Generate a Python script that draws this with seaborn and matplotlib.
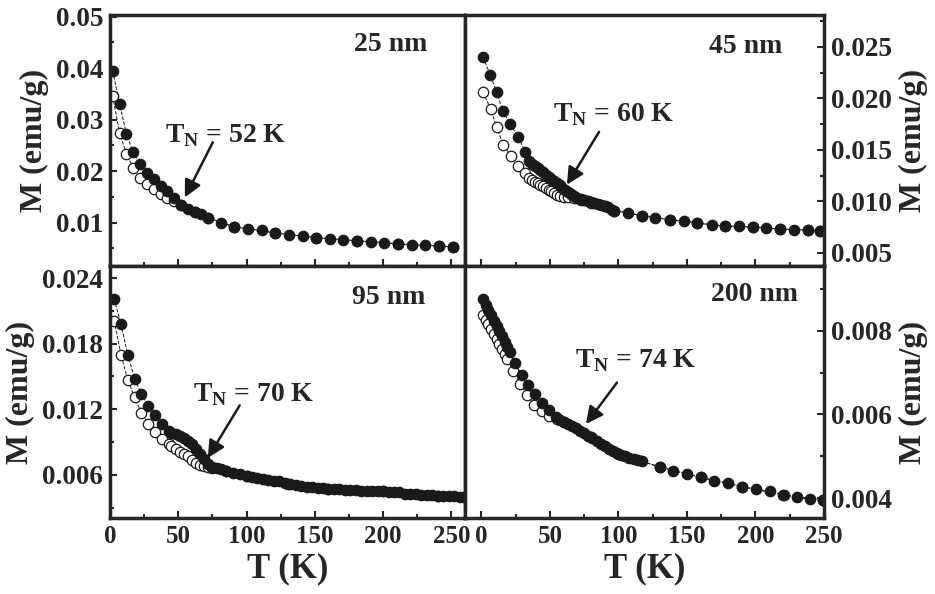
import numpy as np
import pandas as pd
import matplotlib
matplotlib.use("Agg")
import matplotlib.pyplot as plt
from matplotlib.ticker import MultipleLocator, FormatStrFormatter
import seaborn as sns

# ---- 25 nm ----
t25_fc = [2, 7, 12, 17, 22, 27, 32, 37, 42, 47, 52, 57, 62, 67, 72, 81, 91, 101, 111, 121,
          131, 141, 151, 161, 171, 181, 191, 201, 211, 221, 231, 241, 251]
m25_fc = [0.0394, 0.0331, 0.0272, 0.0237, 0.0214, 0.0197, 0.0184, 0.0172, 0.0161, 0.0147,
          0.0135, 0.0127, 0.0121, 0.0116, 0.0110, 0.0100, 0.0092, 0.0088, 0.0085, 0.0080,
          0.0077, 0.0074, 0.0071, 0.0069, 0.0067, 0.0065, 0.0063, 0.0061, 0.0059, 0.0057,
          0.0056, 0.0055, 0.0053]
t25_zfc = [2, 7, 12, 17, 22, 27, 32, 37, 42, 47, 52, 62, 72, 91, 121, 151, 181, 211, 241, 251]
m25_zfc = [0.0346, 0.0274, 0.0234, 0.0206, 0.0187, 0.0175, 0.0165, 0.0156, 0.0148, 0.0142,
           0.0134, 0.0121, 0.0110, 0.0092, 0.0080, 0.0071, 0.0065, 0.0059, 0.0055, 0.0053]

# ---- 45 nm ----
t45_fc = [1, 6.5, 11, 15.5, 21, 27, 32, 35, 37, 39, 41, 43, 45, 47, 49, 51, 53, 55, 57, 59,
          61, 63, 65, 67.5, 70, 72.5, 75, 77.5, 80, 82.5, 85, 87.5, 90, 92.5, 95, 97, 107,
          117, 127, 137.5, 148, 157.5, 168, 178, 188, 198, 208, 218, 228, 238.5, 247]
m45_fc = [0.0240, 0.0223, 0.0206, 0.0188, 0.0175, 0.0162, 0.0148, 0.0139, 0.0136, 0.0134,
          0.0132, 0.0130, 0.0128, 0.0126, 0.0124, 0.0122, 0.0120, 0.0118, 0.0116, 0.0113,
          0.0111, 0.0109, 0.0107, 0.0105, 0.0103, 0.0102, 0.0101, 0.0100, 0.0099, 0.0098,
          0.0097, 0.0096, 0.0095, 0.0094, 0.0092, 0.0091, 0.00887, 0.0086, 0.0084, 0.0082,
          0.0081, 0.0079, 0.0077, 0.0076, 0.00755, 0.0075, 0.0074, 0.0073, 0.00725, 0.0072,
          0.0071]
t45_zfc = [1, 6.7, 11, 16, 21.5, 26.5, 31.5, 35, 37, 39, 41, 43, 45, 47, 49, 51, 53, 55, 57,
           60, 63, 67.5, 72.5, 80, 90, 97, 117, 137.5, 157.5, 178, 198, 218, 238.5, 247]
m45_zfc = [0.0206, 0.0190, 0.0172, 0.0155, 0.0144, 0.0134, 0.0127, 0.0123, 0.0121, 0.0119,
           0.0118, 0.0116, 0.01145, 0.0113, 0.0111, 0.0110, 0.0108, 0.0106, 0.0105, 0.0104,
           0.0104, 0.0103, 0.0101, 0.0098, 0.0095, 0.0091, 0.0086, 0.0082, 0.0079, 0.0076,
           0.0075, 0.0073, 0.0072, 0.0071]

# ---- 95 nm ----
t95_fc = [3, 8, 13, 18, 23, 28, 33, 38, 43, 45, 48, 51, 54, 57, 60, 63, 66, 69, 72, 75, 78,
          81, 85, 90, 95, 100, 104, 108, 112, 116, 120, 124, 128, 132, 136, 140, 144, 148,
          152, 156, 160, 164, 168, 172, 176, 180, 184, 188, 192, 196, 200, 204, 208, 212,
          216, 220, 224, 228, 232, 236, 240, 244, 248, 252, 256, 259]
m95_fc = [0.0221, 0.0198, 0.0170, 0.0148, 0.0134, 0.0123, 0.0115, 0.0107, 0.0100, 0.0098,
          0.0097, 0.0096, 0.0094, 0.0091, 0.0088, 0.0084, 0.0079, 0.0075, 0.0070, 0.0067,
          0.0066, 0.0065, 0.0064, 0.0062, 0.0061, 0.0059, 0.0058, 0.0057, 0.0056, 0.0055,
          0.0054, 0.0054, 0.0053, 0.0052, 0.0051, 0.0050, 0.0049, 0.0049, 0.0048, 0.0048,
          0.0047, 0.0047, 0.0047, 0.0046, 0.0046, 0.0046, 0.0045, 0.0045, 0.0045, 0.0045,
          0.0045, 0.0044, 0.0044, 0.0044, 0.0043, 0.0043, 0.0043, 0.0042, 0.0042, 0.0042,
          0.0041, 0.0041, 0.0041, 0.0041, 0.0040, 0.0040]
t95_zfc = [3, 8, 13, 18, 23, 28, 33, 38, 43, 45, 48, 51, 54, 57, 60, 63, 66, 69, 72, 75, 85,
           100, 130, 160, 200, 240, 259]
m95_zfc = [0.0201, 0.0170, 0.0147, 0.0131, 0.0117, 0.0107, 0.0099, 0.0093, 0.0088, 0.0086,
           0.0084, 0.0081, 0.0079, 0.0077, 0.0074, 0.0071, 0.0069, 0.0068, 0.0067, 0.0066,
           0.0064, 0.0059, 0.0052, 0.0047, 0.0045, 0.0041, 0.0040]

# ---- 200 nm ----
t200_fc = [1, 3, 5, 7, 9, 11, 13, 15, 17, 19, 21, 24.5, 29.5, 34, 39, 44, 49, 54.5, 57, 60,
           63, 66, 69, 72, 75, 78, 81, 84, 87, 90, 93, 96, 99, 102, 105, 108, 111, 114, 117,
           130, 140, 150, 160, 170, 180, 190, 200.5, 210.5, 220.5, 230, 239.5, 249.5]
m200_fc = [0.00875, 0.00862, 0.00850, 0.00837, 0.00824, 0.00811, 0.00798, 0.00786, 0.00773,
           0.00761, 0.00749, 0.00722, 0.00693, 0.00670, 0.00648, 0.00627, 0.00610, 0.00595,
           0.00587, 0.00582, 0.00578, 0.00573, 0.00567, 0.00561, 0.00555, 0.00549, 0.00543,
           0.00536, 0.00530, 0.00524, 0.00518, 0.00513, 0.00508, 0.00503, 0.00500, 0.00497,
           0.00494, 0.00491, 0.00488, 0.00475, 0.00466, 0.00458, 0.00450, 0.00442, 0.00436,
           0.00428, 0.00421, 0.00417, 0.00408, 0.00402, 0.00398, 0.00396]
t200_zfc = [1, 3, 5, 7, 9, 11, 13, 15, 17, 19, 23, 28, 33, 38, 44, 49, 55, 60, 80, 100, 130,
            160, 190, 220, 249.5]
m200_zfc = [0.00838, 0.00826, 0.00815, 0.00803, 0.00792, 0.00780, 0.00768, 0.00756, 0.00744,
            0.00733, 0.00703, 0.00673, 0.00647, 0.00623, 0.00608, 0.00596, 0.00588, 0.00582,
            0.00545, 0.00505, 0.00475, 0.00450, 0.00428, 0.00408, 0.00396]

sizes = ["25 nm", "45 nm", "95 nm", "200 nm"]
tn_labels = ["52 K", "60 K", "70 K", "74 K"]

sns.set_theme(style="ticks")
plt.rcParams['font.family'] = ['Liberation Serif', 'DejaVu Serif']
plt.rcParams['font.weight'] = 'bold'
plt.rcParams['axes.labelweight'] = 'bold'
plt.rcParams['mathtext.fontset'] = 'custom'
plt.rcParams['mathtext.rm'] = 'Liberation Serif:bold'
plt.rcParams['mathtext.bf'] = 'Liberation Serif:bold'

fig = plt.figure(figsize=(9.35, 5.94), dpi=100)
L, W1, R0, W2 = 110 / 935, 355 / 935, 465 / 935, 359 / 935
B_top, H_top, B_bot, H_bot = 1 - 266 / 594, 251 / 594, 1 - 518 / 594, 252 / 594
ax_tl = fig.add_axes([L, B_top, W1, H_top])
ax_tr = fig.add_axes([R0, B_top, W2, H_top])
ax_bl = fig.add_axes([L, B_bot, W1, H_bot])
ax_br = fig.add_axes([R0, B_bot, W2, H_bot])

panels = [
    (ax_tl, t25_fc, m25_fc, t25_zfc, m25_zfc),
    (ax_tr, t45_fc, m45_fc, t45_zfc, m45_zfc),
    (ax_bl, t95_fc, m95_fc, t95_zfc, m95_zfc),
    (ax_br, t200_fc, m200_fc, t200_zfc, m200_zfc),
]

for ax, tf, mf, tz, mz in panels:
    # ZFC: open circles, FC: filled circles
    sns.lineplot(x=tz, y=mz, ax=ax, color='k', lw=0.7, ls='--', marker='o', ms=7.5,
                 mfc='white', mec='k', mew=0.9, estimator=None, sort=False)
    sns.lineplot(x=tf, y=mf, ax=ax, color='k', lw=0.7, ls='--', marker='o', ms=7.5,
                 mfc='k', mec='k', mew=0.9, estimator=None, sort=False)

ylims = [(0.0016, 0.0503), (0.00371, 0.0281), (0.00206, 0.0251), (0.00353, 0.00954)]
ymajor = [0.01, 0.005, 0.006, 0.002]
yfmt = ['%.2f', '%.3f', '%.3f', '%.3f']
xlims = [(0, 260), (-12, 250), (0, 260), (-12, 250)]

for i, ax in enumerate([ax_tl, ax_tr, ax_bl, ax_br]):
    ax.set_xlim(*xlims[i])
    ax.set_ylim(*ylims[i])
    ax.xaxis.set_major_locator(MultipleLocator(50))
    ax.xaxis.set_minor_locator(MultipleLocator(25))
    ax.yaxis.set_major_locator(MultipleLocator(ymajor[i]))
    ax.yaxis.set_minor_locator(MultipleLocator(ymajor[i] / 2))
    ax.yaxis.set_major_formatter(FormatStrFormatter(yfmt[i]))
    for s in ax.spines.values():
        s.set_linewidth(2.5)
        s.set_visible(True)
    right = i in (1, 3)
    ax.tick_params(which='both', direction='in', width=1.5, top=False,
                   left=not right, right=right, labelleft=not right, labelright=right,
                   pad=5)
    ax.tick_params(axis='x', labelsize=18)
    ax.tick_params(axis='y', labelsize=19.5)
    ax.tick_params(which='major', length=5)
    ax.tick_params(which='minor', length=3)
    if right:
        ax.yaxis.set_label_position('right')
    ax.set_ylabel('M (emu/g)', fontsize=23, fontweight='bold', labelpad=5)
    if i < 2:
        ax.tick_params(labelbottom=False)
        ax.set_xlabel('')
    else:
        ax.set_xlabel('T (K)', fontsize=25, fontweight='bold', labelpad=3)
    for lab in ax.get_xticklabels() + ax.get_yticklabels():
        lab.set_fontweight('bold')

# size labels
size_pos = [(0.893, 0.881), (0.883, 0.873), (0.887, 0.874), (0.928, 0.885)]
for ax, s, (x, y) in zip([ax_tl, ax_tr, ax_bl, ax_br], sizes, size_pos):
    ax.text(x, y, s, transform=ax.transAxes, ha='right', va='center',
            fontsize=20, fontweight='bold')

# T_N labels and arrows (data coords)
tn_text = [(40, 0.0269), (52.2, 0.0184), (60.7, 0.0133), (68.2, 0.00729)]
arr_tail = [(75.3, 0.0256), (85.8, 0.01674), (95, 0.01236), (98.9, 0.00676)]
arr_head = [(54.8, 0.0149), (62.4, 0.01161), (71.6, 0.00755), (76.3, 0.00577)]
for ax, lab, tp, tail, head in zip([ax_tl, ax_tr, ax_bl, ax_br], tn_labels, tn_text,
                                   arr_tail, arr_head):
    ax.text(tp[0], tp[1], r'T$_\mathregular{N}$ = ' + lab, ha='left', va='center',
            fontsize=20, fontweight='bold')
    ax.annotate('', xy=head, xytext=tail,
                arrowprops=dict(arrowstyle='-|>', color='k', lw=1.8, mutation_scale=26,
                                shrinkA=0, shrinkB=0))

fig.savefig('out.png', dpi=100)
